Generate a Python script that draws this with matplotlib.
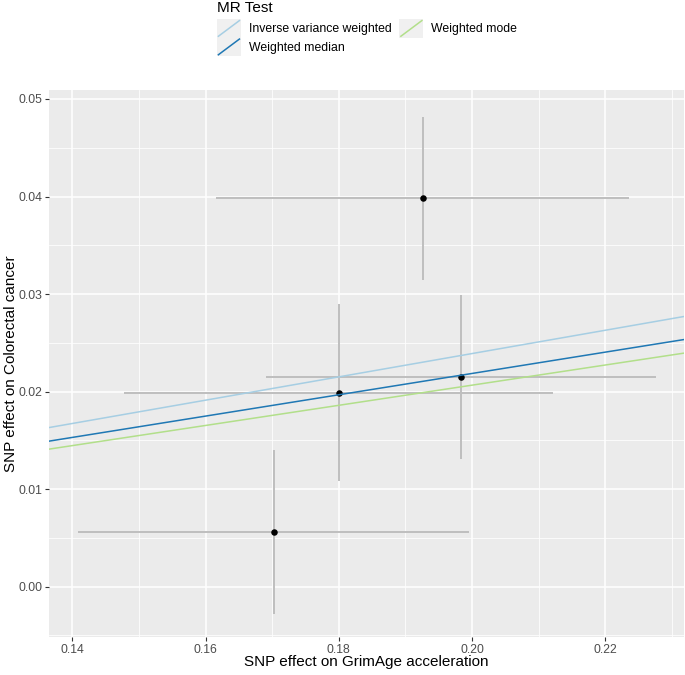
import matplotlib
matplotlib.use("Agg")
import matplotlib.pyplot as plt
from matplotlib.patches import Rectangle
from matplotlib.lines import Line2D
from matplotlib.legend_handler import HandlerBase
import numpy as np

plt.rcParams['font.family'] = ['Liberation Sans', 'DejaVu Sans']

# ---- data ----
snp_x = [0.1926, 0.1800, 0.1983, 0.1702]
snp_y = [0.0398, 0.0199, 0.0215, 0.0056]
se_x = [0.0310, 0.0322, 0.0293, 0.0294]
se_y = [0.0084, 0.0091, 0.0084, 0.0084]

methods = ["Inverse variance weighted", "Weighted median", "Weighted mode"]
slopes = [0.1195, 0.1093, 0.1033]
colors = ["#A6CEE3", "#1F78B4", "#B2DF8A"]

x_ticks = [0.14, 0.16, 0.18, 0.20, 0.22]
x_tick_labels = ["0.14", "0.16", "0.18", "0.20", "0.22"]
y_ticks = [0.00, 0.01, 0.02, 0.03, 0.04, 0.05]
y_tick_labels = ["0.00", "0.01", "0.02", "0.03", "0.04", "0.05"]

W, H = 685, 675
fig = plt.figure(figsize=(W / 100, H / 100), dpi=100)
P_L, P_R, P_T, P_B = 49, 684, 90, 637
ax = fig.add_axes([P_L / W, 1 - P_B / H, (P_R - P_L) / W, (P_B - P_T) / H])
ax.set_facecolor("#EBEBEB")
for s in ax.spines.values():
    s.set_visible(False)

xlim = (0.1365, 0.2318)
ylim = (-0.00516, 0.05092)

# grid
ax.set_xticks(x_ticks)
ax.set_xticklabels(x_tick_labels)
ax.set_yticks(y_ticks)
ax.set_yticklabels(y_tick_labels)
ax.set_xticks([0.15, 0.17, 0.19, 0.21, 0.23], minor=True)
ax.set_yticks([-0.005, 0.005, 0.015, 0.025, 0.035, 0.045], minor=True)
ax.grid(which="major", color="white", linewidth=1.1)
ax.grid(which="minor", color="white", linewidth=0.55)
ax.set_axisbelow(True)
ax.tick_params(which="minor", length=0)
ax.tick_params(which="major", length=2.7, width=0.8, color="#333333",
               labelcolor="#4D4D4D", labelsize=8.8, pad=2)

# error bars
for xi, yi, ex, ey in zip(snp_x, snp_y, se_x, se_y):
    ax.plot([xi - ex, xi + ex], [yi, yi], color="#BEBEBE", lw=1.4, zorder=2,
            solid_capstyle="butt")
    ax.plot([xi, xi], [yi - ey, yi + ey], color="#BEBEBE", lw=1.4, zorder=2,
            solid_capstyle="butt")
ax.scatter(snp_x, snp_y, s=22, color="black", zorder=3, linewidths=0)

# MR lines
handles = []
for m, sl, c in zip(methods, slopes, colors):
    ax.axline((0, 0), slope=sl, color=c, lw=1.1, zorder=4, label=m)
    handles.append(Line2D([], [], color=c, lw=1.1, label=m))

ax.set_xlim(*xlim)
ax.set_ylim(*ylim)

ax.set_xlabel("SNP effect on GrimAge acceleration", fontsize=11, color="black")
ax.set_ylabel("SNP effect on Colorectal cancer", fontsize=11, color="black")
ax.xaxis.set_label_coords(0.5, -(662 - P_B) / (P_B - P_T), transform=ax.transAxes)
ax.xaxis.label.set_va("center")
ax.yaxis.set_label_coords(-(P_L - 11) / (P_R - P_L), 0.5, transform=ax.transAxes)
ax.yaxis.label.set_va("center")


class DiagHandler(HandlerBase):
    def create_artists(self, legend, orig_handle, xdescent, ydescent,
                       width, height, fontsize, trans):
        x0, y0 = -xdescent, -ydescent
        rect = Rectangle((x0, y0), width, height, facecolor="#F0F0F0",
                         edgecolor="none", transform=trans)
        ln = Line2D([x0 + 1, x0 + width - 1], [y0 + 1, y0 + height - 1],
                    color=orig_handle.get_color(), lw=1.1, transform=trans)
        return [rect, ln]


leg = fig.legend(handles=handles, labels=methods, ncol=2,
                 loc="upper left", bbox_to_anchor=(217 / W, 1 - 1 / H),
                 frameon=False, fontsize=8.8, title="MR Test",
                 title_fontsize=11, alignment="left",
                 handler_map={Line2D: DiagHandler()},
                 handlelength=1.95, handleheight=1.95, labelspacing=0.0,
                 handletextpad=0.65, columnspacing=0.65, borderpad=0,
                 borderaxespad=0)
leg._legend_box.sep = 3

fig.savefig("out.png", dpi=100)
